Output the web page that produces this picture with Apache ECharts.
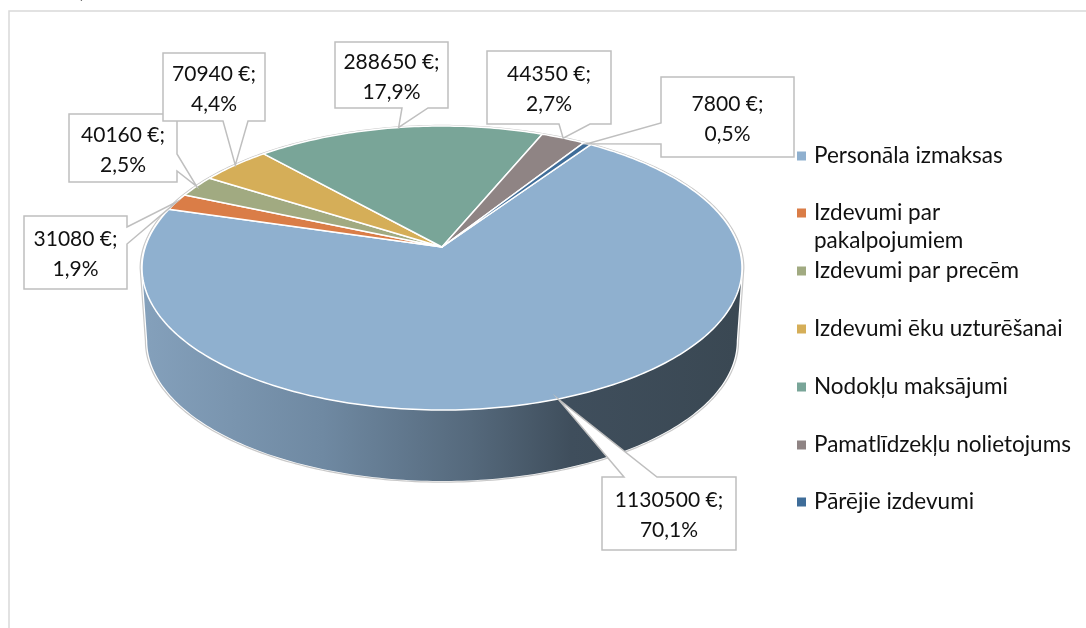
<!DOCTYPE html>
<html>
<head>
<meta charset="utf-8">
<style>
  html,body{margin:0;padding:0;background:#fff;}
  #chart{width:1086px;height:628px;}
</style>
<script src="https://cdn.jsdelivr.net/npm/echarts@6/dist/echarts.min.js"></script>
</head>
<body>
<div id="chart"></div>
<script>
// dati
const categories=['Personāla izmaksas','Izdevumi par pakalpojumiem','Izdevumi par precēm','Izdevumi ēku uzturēšanai','Nodokļu maksājumi','Pamatlīdzekļu nolietojums','Pārējie izdevumi']
const values=[1130500,31080,40160,70940,288650,44350,7800]

// krāsas
const colors=['#8fb0cf','#da7d47','#a1aa81','#d5ae58','#79a598','#8f8484','#3f6d99']

// pīrāga ģeometrija (perspektīva)
const cx=442
const startAngle=34.2
const persp=0.148
const topDisc={rx:296.7,ry:138.9,y0:247}
const bottomDisc={rx:291.5,ry:137,y0:320.2}
const frontFrom=98.5
const frontTo=261.5

// remarku rāmji: [x0,y0,x1,y1], mala, pamatnes sākums un beigas
const callouts=[
  {box:[602,477,736,550],side:'top',base:[624,657]},
  {box:[24,216,127,289],side:'right',base:[227,244]},
  {box:[69,114,177,182],side:'right',base:[154,171]},
  {box:[163,53,265,121],side:'bottom',base:[223,248]},
  {box:[335,42,448,108],side:'bottom',base:[402,428]},
  {box:[487,51,611,124],side:'bottom',base:[559,590]},
  {box:[661,77,794,157],side:'left',base:[123,144]}
]
const legendY=[156,213,271,329,387,445,502]

const total=values.reduce((a,b)=>a+b,0)
const font='"Lato","Noto Sans",sans-serif'

// sektoru robežas grādos, pulksteņrādītāja virzienā no augšas
const bounds=[startAngle]
values.forEach((v,i)=>bounds.push(bounds[i]+v/total*360))

function project(deg,disc,scale){
  const s=scale||1
  const a=deg*Math.PI/180
  const u=Math.sin(a)*s
  const v=Math.cos(a)*s
  const d=1+persp*v
  return [cx+disc.rx*u/d,disc.y0-disc.ry*v/d]
}

function arc(from,to,disc,scale){
  const pts=[]
  const n=Math.max(2,Math.ceil(Math.abs(to-from)))
  for(let i=0;i<=n;i++){
    pts.push(project(from+(to-from)*i/n,disc,scale))
  }
  return pts
}

const sideGradient=new echarts.graphic.LinearGradient(145,0,737,0,[
  {offset:0,color:'#84a0bb'},
  {offset:0.3,color:'#6f89a2'},
  {offset:0.55,color:'#55697c'},
  {offset:0.72,color:'#3f4e5c'},
  {offset:1,color:'#3a4853'}
],true)

// sektora virsma un, ja vajag, sāna mala
function renderSector(params,api){
  const i=params.seriesIndex-1
  const from=bounds[i]
  const to=bounds[i+1]
  const children=[]
  const sFrom=Math.max(from,frontFrom)
  const sTo=Math.min(to,frontTo)
  if(sTo>sFrom){
    children.push({
      type:'polygon',
      shape:{points:arc(sFrom,sTo,topDisc).concat(arc(sTo,sFrom,bottomDisc))},
      style:{fill:sideGradient}
    })
  }
  children.push({
    type:'polygon',
    shape:{points:[[cx,topDisc.y0]].concat(arc(from,to,topDisc))},
    style:{fill:api.visual('color'),stroke:'#fff',lineWidth:1.5,lineJoin:'round'}
  })
  return {type:'group',children:children}
}

// kontūra ap visu pīrāgu
function renderOutline(){
  const pts=arc(frontTo,frontFrom+360,topDisc,1.006).concat(arc(frontFrom,frontTo,bottomDisc,1.006))
  return {
    type:'polygon',
    shape:{points:pts},
    style:{fill:'#fff',stroke:'#c9c9c9',lineWidth:1.2}
  }
}

// rāmis ar smaili uz sektora vidu
function calloutPoints(c,tip){
  const [x0,y0,x1,y1]=c.box
  const [a,b]=c.base
  const pts=[[x0,y0]]
  if(c.side==='top')pts.push([a,y0],tip,[b,y0])
  pts.push([x1,y0])
  if(c.side==='right')pts.push([x1,a],tip,[x1,b])
  pts.push([x1,y1])
  if(c.side==='bottom')pts.push([b,y1],tip,[a,y1])
  pts.push([x0,y1])
  if(c.side==='left')pts.push([x0,b],tip,[x0,a])
  return pts
}

function renderCallout(params,api){
  const i=api.value(0)
  const c=callouts[i]
  const tip=project((bounds[i]+bounds[i+1])/2,topDisc)
  const pct=(values[i]/total*100).toFixed(1).replace('.',',')
  return {
    type:'group',
    children:[
      {
        type:'polygon',
        shape:{points:calloutPoints(c,tip)},
        style:{fill:'#fff',stroke:'#bfbfbf',lineWidth:1.5}
      },
      {
        type:'text',
        style:{
          text:values[i]+' €;\n'+pct+'%',
          x:(c.box[0]+c.box[2])/2,
          y:(c.box[1]+c.box[3])/2+2,
          align:'center',
          verticalAlign:'middle',
          fill:'#111',
          font:'21px '+font,
          lineHeight:30
        }
      }
    ]
  }
}

const chart=echarts.init(document.getElementById('chart'),null,{renderer:'canvas'})

const series=[{
  type:'custom',
  name:'outline',
  coordinateSystem:'none',
  silent:true,
  animation:false,
  data:[[0]],
  renderItem:renderOutline
}]
categories.forEach((name,i)=>{
  series.push({
    type:'custom',
    name:name,
    coordinateSystem:'none',
    silent:true,
    animation:false,
    itemStyle:{color:colors[i]},
    data:[[values[i]]],
    renderItem:renderSector
  })
})
series.push({
  type:'custom',
  name:'labels',
  coordinateSystem:'none',
  silent:true,
  animation:false,
  data:values.map((v,i)=>[i]),
  renderItem:renderCallout
})

chart.setOption({
  backgroundColor:'#fff',
  animation:false,
  // katram ierakstam sava leģenda, jo atstarpes nav vienādas
  legend:categories.map((name,i)=>{
    const wrapped=name==='Izdevumi par pakalpojumiem'
    return {
      data:[name],
      left:797,
      top:legendY[i]-14,
      padding:0,
      selectedMode:false,
      itemWidth:9,
      itemHeight:wrapped?37:9,
      itemGap:0,
      icon:wrapped?'path://M0 0H9V9H0ZM0 37H0Z':'rect',
      formatter:wrapped?'Izdevumi par\npakalpojumiem':'{name}',
      textStyle:{fontFamily:'Lato, "Noto Sans", sans-serif',fontSize:22.5,color:'#111',lineHeight:28,padding:[0,0,0,3]}
    }
  }),
  graphic:[
    {
      type:'polyline',
      silent:true,
      shape:{points:[[9,628],[9,11],[1086,11]]},
      style:{fill:'none',stroke:'#d9d9d9',lineWidth:1.5}
    },
    {
      // nogriezts paraksta gals virs attēla
      type:'text',
      silent:true,
      style:{text:')',x:80,y:-18,fill:'#222',font:'20px '+font}
    }
  ],
  series:series
})
</script>
</body>
</html>
